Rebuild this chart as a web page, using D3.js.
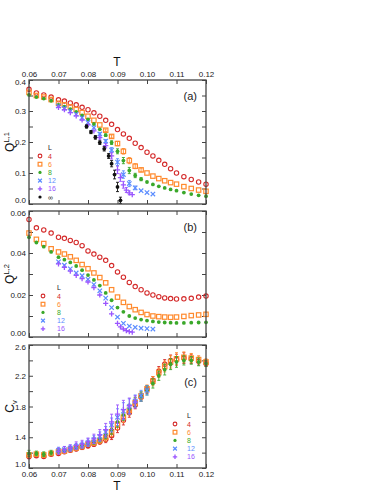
<!DOCTYPE html>
<html>
<head>
<meta charset="utf-8">
<script src="https://cdn.jsdelivr.net/npm/d3@7"></script>
<style>
  body { margin: 0; background: #fff; }
  svg text { font-family: "Liberation Sans", Arial, sans-serif; }
</style>
</head>
<body>
<div id="chart"></div>
<script>
// temperatures
var T_A = [0.060,0.0625,0.065,0.0675,0.070,0.072,0.074,0.076,0.078,0.080,0.082,0.084,0.086,0.088,0.090,0.092,0.094,0.096,0.098,0.100,0.102,0.104,0.106,0.108,0.110,0.1125,0.115,0.1175,0.120];
var T_12 = [0.070,0.072,0.074,0.076,0.078,0.080,0.082,0.084,0.086,0.088,0.090,0.092,0.094,0.096,0.098,0.100,0.102];
var T_16 = [0.070,0.072,0.074,0.076,0.078,0.080,0.082,0.084,0.086,0.088,0.090,0.091,0.092,0.093,0.094,0.095];
var T_INF = [0.0795,0.081,0.0825,0.084,0.0855,0.087,0.088,0.089,0.090,0.091];
var T_C12 = [0.070,0.072,0.074,0.076,0.078,0.080,0.082,0.084,0.086,0.088,0.090,0.092,0.094,0.096,0.098,0.100];
var T_C16 = [0.070,0.072,0.074,0.076,0.078,0.080,0.082,0.084,0.086,0.088,0.090,0.092,0.094,0.096];

// panel (a) Q^{L,1}
var q1_4  = [0.370,0.358,0.352,0.345,0.336,0.332,0.326,0.320,0.312,0.304,0.294,0.283,0.270,0.257,0.240,0.226,0.212,0.196,0.182,0.167,0.155,0.141,0.128,0.114,0.100,0.088,0.079,0.071,0.064];
var q1_6  = [0.360,0.350,0.345,0.337,0.325,0.320,0.313,0.305,0.295,0.283,0.270,0.255,0.238,0.218,0.195,0.170,0.140,0.122,0.110,0.100,0.090,0.082,0.075,0.069,0.064,0.056,0.050,0.045,0.041];
var q1_8  = [0.352,0.345,0.340,0.333,0.320,0.314,0.306,0.297,0.286,0.273,0.258,0.241,0.222,0.198,0.170,0.140,0.108,0.092,0.080,0.071,0.063,0.057,0.052,0.047,0.043,0.037,0.032,0.028,0.025];
var q1_12 = [0.316,0.309,0.300,0.290,0.278,0.263,0.246,0.226,0.203,0.174,0.135,0.095,0.066,0.052,0.043,0.037,0.032];
var q1_16 = [0.312,0.304,0.295,0.284,0.271,0.255,0.236,0.214,0.188,0.155,0.110,0.085,0.062,0.045,0.036,0.030];
var q1_inf = [0.250,0.232,0.215,0.198,0.178,0.155,0.130,0.095,0.055,0.012];
var e1_6  = [0,0,0,0,0,0,0,0,0,0,0,0,0.004,0.005,0.007,0.009,0.010,0.008,0.006,0,0,0,0,0,0,0,0,0,0];
var e1_8  = [0,0,0,0,0,0,0,0,0,0,0,0,0.004,0.006,0.008,0.010,0.010,0.007,0.005,0,0,0,0,0,0,0,0,0,0];
var e1_12 = [0,0,0,0,0,0,0,0.004,0.005,0.008,0.011,0.012,0.010,0.006,0,0,0];
var e1_16 = [0,0,0,0,0,0,0,0.005,0.007,0.010,0.012,0.012,0.011,0.008,0.006,0];
var e1_inf = [0.005,0.005,0.006,0.006,0.007,0.008,0.010,0.014,0.015,0.010];

// panel (b) Q^{L,2}
var q2_4  = [0.0560,0.0520,0.0510,0.0495,0.0475,0.0470,0.0460,0.0450,0.0435,0.0410,0.0395,0.0380,0.0365,0.0340,0.0310,0.0285,0.0260,0.0240,0.0225,0.0210,0.0200,0.0192,0.0186,0.0183,0.0181,0.0182,0.0184,0.0190,0.0195];
var q2_6  = [0.0495,0.0465,0.0445,0.0420,0.0405,0.0395,0.0382,0.0365,0.0345,0.0325,0.0305,0.0283,0.0258,0.0225,0.0190,0.0165,0.0145,0.0130,0.0117,0.0107,0.0100,0.0097,0.0095,0.0094,0.0095,0.0098,0.0102,0.0105,0.0108];
var q2_8  = [0.0475,0.0450,0.0430,0.0405,0.0380,0.0368,0.0355,0.0338,0.0318,0.0295,0.0272,0.0245,0.0210,0.0175,0.0140,0.0120,0.0100,0.0090,0.0083,0.0078,0.0074,0.0071,0.0069,0.0068,0.0067,0.0067,0.0068,0.0069,0.0070];
var q2_12 = [0.0358,0.0342,0.0325,0.0305,0.0292,0.0275,0.0250,0.0220,0.0185,0.0140,0.0095,0.0065,0.0052,0.0046,0.0042,0.0040,0.0038];
var q2_16 = [0.0348,0.0332,0.0314,0.0293,0.0278,0.0262,0.0235,0.0200,0.0160,0.0110,0.0065,0.0048,0.0038,0.0030,0.0026,0.0023];

// panel (c) C_v
var cv_4  = [1.15,1.16,1.15,1.18,1.19,1.21,1.23,1.25,1.27,1.29,1.31,1.34,1.37,1.42,1.52,1.62,1.72,1.82,1.92,2.02,2.14,2.26,2.35,2.40,2.41,2.43,2.42,2.39,2.36];
var cv_6  = [1.17,1.18,1.17,1.19,1.21,1.22,1.24,1.26,1.28,1.31,1.33,1.36,1.40,1.47,1.57,1.66,1.75,1.85,1.94,2.03,2.13,2.24,2.32,2.38,2.42,2.44,2.43,2.41,2.38];
var cv_8  = [1.19,1.19,1.18,1.20,1.22,1.23,1.25,1.27,1.29,1.32,1.35,1.38,1.43,1.50,1.60,1.69,1.77,1.86,1.93,2.01,2.10,2.20,2.28,2.35,2.38,2.40,2.40,2.38,2.36];
var cv_12 = [1.23,1.24,1.26,1.28,1.30,1.33,1.37,1.41,1.47,1.56,1.66,1.74,1.80,1.87,1.94,2.01];
var cv_16 = [1.22,1.24,1.26,1.29,1.31,1.34,1.38,1.43,1.50,1.60,1.70,1.76,1.81,1.86];
var ec_4  = [0.03,0.02,0.02,0.02,0.02,0.02,0.02,0.03,0.03,0.03,0.03,0.03,0.04,0.05,0.06,0.06,0.06,0.05,0.05,0.05,0.05,0.06,0.06,0.07,0.07,0.07,0.06,0.05,0.04];
var ec_6  = [0.03,0.02,0.02,0.02,0.02,0.02,0.02,0.03,0.03,0.03,0.03,0.04,0.05,0.06,0.07,0.07,0.06,0.06,0.05,0.05,0.06,0.06,0.07,0.08,0.08,0.07,0.06,0.05,0.04];
var ec_8  = [0.04,0.03,0.03,0.03,0.03,0.02,0.03,0.03,0.03,0.03,0.04,0.04,0.05,0.06,0.07,0.07,0.06,0.06,0.06,0.06,0.06,0.06,0.07,0.07,0.07,0.06,0.05,0.05,0.04];
var ec_12 = [0.04,0.04,0.04,0.04,0.04,0.05,0.05,0.06,0.07,0.09,0.11,0.11,0.10,0.08,0.07,0.06];
var ec_16 = [0.04,0.04,0.04,0.05,0.05,0.05,0.06,0.07,0.08,0.10,0.12,0.12,0.10,0.08];

var sizes = ["4", "6", "8", "12", "16", "\u221e"];
var colors = ["#d42a2a", "#ff8a2e", "#3aa82a", "#5a8cff", "#9a55ff", "#111111"];
var shapes = ["circle", "square", "dot", "cross", "plus", "dot"];

var x = d3.scaleLinear().domain([0.06, 0.12]).range([29, 206]);
var xTicks = [0.06, 0.07, 0.08, 0.09, 0.10, 0.11, 0.12];

var svg = d3.select("#chart").append("svg")
    .attr("width", 382)
    .attr("height", 494);

function marker(g, shape, color, cx, cy, k) {
  k = k || 1;
  if (shape == "circle") {
    g.append("circle").attr("cx", cx).attr("cy", cy).attr("r", 2.2 * k)
      .attr("fill", "none").attr("stroke", color).attr("stroke-width", 1.1);
  } else if (shape == "square") {
    g.append("rect").attr("x", cx - 2.2 * k).attr("y", cy - 2.2 * k).attr("width", 4.4 * k).attr("height", 4.4 * k)
      .attr("fill", "none").attr("stroke", color).attr("stroke-width", 1.2);
  } else if (shape == "dot") {
    g.append("circle").attr("cx", cx).attr("cy", cy).attr("r", 1.9 * k).attr("fill", color);
  } else if (shape == "cross") {
    var c = 2.2 * k;
    g.append("path").attr("d", "M" + (cx - c) + "," + (cy - c) + "L" + (cx + c) + "," + (cy + c) +
        "M" + (cx - c) + "," + (cy + c) + "L" + (cx + c) + "," + (cy - c))
      .attr("stroke", color).attr("stroke-width", 1.2);
  } else if (shape == "plus") {
    var q = 2.6 * k;
    g.append("path").attr("d", "M" + (cx - q) + "," + cy + "L" + (cx + q) + "," + cy +
        "M" + cx + "," + (cy - q) + "L" + cx + "," + (cy + q))
      .attr("stroke", color).attr("stroke-width", 1.3);
  }
}

function drawPanel(p) {
  var y = d3.scaleLinear().domain(p.yDomain).range([p.bottom, p.top]);
  var g = svg.append("g");

  // axes with inward ticks
  var fmt = function(d) {
    return p.yLabels.some(function(v) { return Math.abs(v - d) < 1e-9; }) ? d3.format(p.yFormat)(d) : "";
  };
  var left = g.append("g").attr("class", "axis").attr("transform", "translate(" + x.range()[0] + ",0)")
    .call(d3.axisLeft(y).tickValues(p.yTicks).tickSizeInner(-4).tickSizeOuter(0).tickPadding(3).tickFormat(fmt));
  g.append("g").attr("class", "axis").attr("transform", "translate(" + x.range()[1] + ",0)")
    .call(d3.axisRight(y).tickValues(p.yTicks).tickSizeInner(-4).tickSizeOuter(0).tickFormat(""));
  g.append("g").attr("class", "axis").attr("transform", "translate(0," + p.top + ")")
    .call(d3.axisTop(x).tickValues(xTicks).tickSizeInner(-4).tickSizeOuter(0).tickPadding(3)
      .tickFormat(p.topLabels ? d3.format(".2f") : ""));
  g.append("g").attr("class", "axis").attr("transform", "translate(0," + p.bottom + ")")
    .call(d3.axisBottom(x).tickValues(xTicks).tickSizeInner(-4).tickSizeOuter(0).tickPadding(3)
      .tickFormat(p.bottomLabels ? d3.format(".2f") : ""));

  g.selectAll(".axis path").remove();
  g.selectAll(".axis line").attr("stroke", "#444").attr("stroke-width", 1);
  g.selectAll(".axis text").attr("font-size", 8).attr("fill", "#222")
    .attr("font-family", "Liberation Sans, Arial, sans-serif");

  // nudge end labels away from the neighbouring panel / corner
  left.selectAll(".tick text").attr("dy", function(d) {
    if (d == p.yDomain[0]) return "-0.15em";
    if (d == p.yDomain[1]) return "0.6em";
    return "0.32em";
  });

  // data
  p.series.forEach(function(s) {
    var sg = g.append("g");
    s.t.forEach(function(t, i) {
      var v = s.v[i], e = s.e ? s.e[i] : 0;
      if (e > 0) {
        var y1 = y(v - e), y2 = y(v + e), cx = x(t);
        sg.append("path")
          .attr("d", "M" + cx + "," + y1 + "V" + y2 + "M" + (cx - 1.5) + "," + y1 + "H" + (cx + 1.5) +
            "M" + (cx - 1.5) + "," + y2 + "H" + (cx + 1.5))
          .attr("stroke", s.color).attr("stroke-width", 0.9).attr("fill", "none");
      }
      marker(sg, s.shape, s.color, x(t), y(v));
    });
  });

  // frame
  g.append("rect")
    .attr("x", x.range()[0]).attr("y", p.top)
    .attr("width", x.range()[1] - x.range()[0]).attr("height", p.bottom - p.top)
    .attr("fill", "none").attr("stroke", "#444").attr("stroke-width", 1.3);

  // panel label
  g.append("text").attr("x", 197).attr("y", p.tagY).attr("text-anchor", "end")
    .attr("font-size", 11).attr("fill", "#222").text(p.tag);

  // legend
  var lg = g.append("g");
  lg.append("text").attr("x", p.legend.tx).attr("y", p.legend.y0 - p.legend.dy + 2.5)
    .attr("font-size", p.legend.fs).attr("fill", "#222").text("L");
  p.series.forEach(function(s, i) {
    var ry = p.legend.y0 + i * p.legend.dy;
    marker(lg, s.shape, s.color, p.legend.mx, ry, 0.85);
    lg.append("text").attr("x", p.legend.tx).attr("y", ry + 2.5)
      .attr("font-size", p.legend.fs).attr("fill", s.color).text(s.L);
  });

  // y label
  var yl = g.append("text")
    .attr("transform", "translate(" + p.ylabX + "," + ((p.top + p.bottom) / 2) + ") rotate(-90)")
    .attr("text-anchor", "middle").attr("font-size", 12).attr("fill", "#111");
  yl.append("tspan").text(p.ylab[0]);
  yl.append("tspan").attr("font-size", 7.5).attr("dy", p.ylab[2]).text(p.ylab[1]);
}

function makeSeries(ts, vs, es) {
  return ts.map(function(t, i) {
    return { L: sizes[i], color: colors[i], shape: shapes[i], t: t, v: vs[i], e: es ? es[i] : null };
  });
}

drawPanel({
  top: 80, bottom: 204, yDomain: [0, 0.4],
  yTicks: [0, 0.05, 0.1, 0.15, 0.2, 0.25, 0.3, 0.35, 0.4], yLabels: [0, 0.1, 0.2, 0.3, 0.4], yFormat: ".1f",
  topLabels: true, bottomLabels: false, tag: "(a)", tagY: 100,
  series: makeSeries([T_A, T_A, T_A, T_12, T_16, T_INF], [q1_4, q1_6, q1_8, q1_12, q1_16, q1_inf],
    [null, e1_6, e1_8, e1_12, e1_16, e1_inf]),
  legend: { mx: 40, tx: 48, y0: 156, dy: 8.2, fs: 7 },
  ylab: ["Q", "L,1", -5], ylabX: 14
});

drawPanel({
  top: 211, bottom: 337, yDomain: [0, 0.06],
  yTicks: [0, 0.01, 0.02, 0.03, 0.04, 0.05, 0.06], yLabels: [0, 0.02, 0.04, 0.06], yFormat: ".2f",
  topLabels: false, bottomLabels: false, tag: "(b)", tagY: 231,
  series: makeSeries([T_A, T_A, T_A, T_12, T_16], [q2_4, q2_6, q2_8, q2_12, q2_16]),
  legend: { mx: 43, tx: 57, y0: 296, dy: 8.2, fs: 7 },
  ylab: ["Q", "L,2", -5], ylabX: 14
});

drawPanel({
  top: 345, bottom: 468, yDomain: [1.0, 2.6],
  yTicks: [1.0, 1.2, 1.4, 1.6, 1.8, 2.0, 2.2, 2.4, 2.6], yLabels: [1.0, 1.4, 1.8, 2.2, 2.6], yFormat: ".1f",
  topLabels: false, bottomLabels: true, tag: "(c)", tagY: 386,
  series: makeSeries([T_A, T_A, T_A, T_C12, T_C16], [cv_4, cv_6, cv_8, cv_12, cv_16],
    [ec_4, ec_6, ec_8, ec_12, ec_16]),
  legend: { mx: 175, tx: 187, y0: 424, dy: 8.2, fs: 7 },
  ylab: ["C", "v", 3], ylabX: 14
});

// x axis titles
svg.append("text").attr("x", 117).attr("y", 66).attr("text-anchor", "middle")
  .attr("font-size", 12).attr("fill", "#111").text("T");
svg.append("text").attr("x", 117).attr("y", 490).attr("text-anchor", "middle")
  .attr("font-size", 12).attr("fill", "#111").text("T");
</script>
</body>
</html>
